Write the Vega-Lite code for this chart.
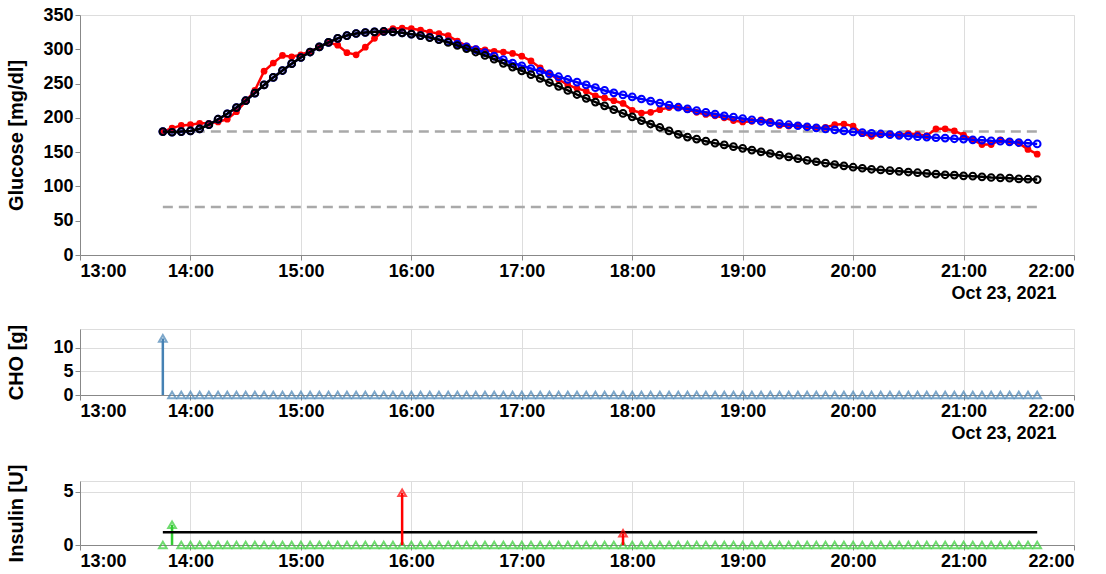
{
  "$schema": "https://vega.github.io/schema/vega-lite/v6.json",
  "data": {"values": [
    {"t": "2021-10-23T13:45", "cgm": 180, "np": 180, "p": 180, "cho": 12, "bolus": 0, "basal": 1.2},
    {"t": "2021-10-23T13:50", "cgm": 185, "np": 179, "p": 179, "cho": 0, "bolus": 1.9, "basal": 1.2},
    {"t": "2021-10-23T13:55", "cgm": 189, "np": 180, "p": 180, "cho": 0, "bolus": 0, "basal": 1.2},
    {"t": "2021-10-23T14:00", "cgm": 190, "np": 181, "p": 181, "cho": 0, "bolus": 0, "basal": 1.2},
    {"t": "2021-10-23T14:05", "cgm": 192, "np": 184, "p": 184, "cho": 0, "bolus": 0, "basal": 1.2},
    {"t": "2021-10-23T14:10", "cgm": 192, "np": 190, "p": 190, "cho": 0, "bolus": 0, "basal": 1.2},
    {"t": "2021-10-23T14:15", "cgm": 194, "np": 198, "p": 198, "cho": 0, "bolus": 0, "basal": 1.2},
    {"t": "2021-10-23T14:20", "cgm": 198, "np": 206, "p": 206, "cho": 0, "bolus": 0, "basal": 1.2},
    {"t": "2021-10-23T14:25", "cgm": 209, "np": 215, "p": 215, "cho": 0, "bolus": 0, "basal": 1.2},
    {"t": "2021-10-23T14:30", "cgm": 224, "np": 225, "p": 225, "cho": 0, "bolus": 0, "basal": 1.2},
    {"t": "2021-10-23T14:35", "cgm": 240, "np": 236, "p": 236, "cho": 0, "bolus": 0, "basal": 1.2},
    {"t": "2021-10-23T14:40", "cgm": 268, "np": 248, "p": 248, "cho": 0, "bolus": 0, "basal": 1.2},
    {"t": "2021-10-23T14:45", "cgm": 280, "np": 259, "p": 259, "cho": 0, "bolus": 0, "basal": 1.2},
    {"t": "2021-10-23T14:50", "cgm": 291, "np": 269, "p": 269, "cho": 0, "bolus": 0, "basal": 1.2},
    {"t": "2021-10-23T14:55", "cgm": 289, "np": 279, "p": 279, "cho": 0, "bolus": 0, "basal": 1.2},
    {"t": "2021-10-23T15:00", "cgm": 292, "np": 288, "p": 288, "cho": 0, "bolus": 0, "basal": 1.2},
    {"t": "2021-10-23T15:05", "cgm": 297, "np": 296, "p": 296, "cho": 0, "bolus": 0, "basal": 1.2},
    {"t": "2021-10-23T15:10", "cgm": 303, "np": 303.5, "p": 303.5, "cho": 0, "bolus": 0, "basal": 1.2},
    {"t": "2021-10-23T15:15", "cgm": 310, "np": 310, "p": 310, "cho": 0, "bolus": 0, "basal": 1.2},
    {"t": "2021-10-23T15:20", "cgm": 306, "np": 316, "p": 316, "cho": 0, "bolus": 0, "basal": 1.2},
    {"t": "2021-10-23T15:25", "cgm": 295, "np": 320, "p": 320, "cho": 0, "bolus": 0, "basal": 1.2},
    {"t": "2021-10-23T15:30", "cgm": 292, "np": 323, "p": 323, "cho": 0, "bolus": 0, "basal": 1.2},
    {"t": "2021-10-23T15:35", "cgm": 303, "np": 324.5, "p": 324.5, "cho": 0, "bolus": 0, "basal": 1.2},
    {"t": "2021-10-23T15:40", "cgm": 316, "np": 325.5, "p": 325.5, "cho": 0, "bolus": 0, "basal": 1.2},
    {"t": "2021-10-23T15:45", "cgm": 327, "np": 326, "p": 326, "cho": 0, "bolus": 0, "basal": 1.2},
    {"t": "2021-10-23T15:50", "cgm": 330, "np": 325.5, "p": 325.5, "cho": 0, "bolus": 0, "basal": 1.2},
    {"t": "2021-10-23T15:55", "cgm": 331, "np": 324, "p": 324, "cho": 0, "bolus": 0, "basal": 1.2, "corr": 4.9},
    {"t": "2021-10-23T16:00", "cgm": 330, "np": 322, "p": 322, "cho": 0, "bolus": 0, "basal": 1.2},
    {"t": "2021-10-23T16:05", "cgm": 328, "np": 320, "p": 320, "cho": 0, "bolus": 0, "basal": 1.2},
    {"t": "2021-10-23T16:10", "cgm": 325, "np": 317.5, "p": 317, "cho": 0, "bolus": 0, "basal": 1.2},
    {"t": "2021-10-23T16:15", "cgm": 323, "np": 314.5, "p": 314, "cho": 0, "bolus": 0, "basal": 1.2},
    {"t": "2021-10-23T16:20", "cgm": 320, "np": 311, "p": 310, "cho": 0, "bolus": 0, "basal": 1.2},
    {"t": "2021-10-23T16:25", "cgm": 312, "np": 307.5, "p": 305.5, "cho": 0, "bolus": 0, "basal": 1.2},
    {"t": "2021-10-23T16:30", "cgm": 305, "np": 303.5, "p": 301, "cho": 0, "bolus": 0, "basal": 1.2},
    {"t": "2021-10-23T16:35", "cgm": 301, "np": 299.5, "p": 296, "cho": 0, "bolus": 0, "basal": 1.2},
    {"t": "2021-10-23T16:40", "cgm": 299, "np": 295, "p": 291, "cho": 0, "bolus": 0, "basal": 1.2},
    {"t": "2021-10-23T16:45", "cgm": 297, "np": 290, "p": 285.5, "cho": 0, "bolus": 0, "basal": 1.2},
    {"t": "2021-10-23T16:50", "cgm": 296, "np": 285, "p": 279.5, "cho": 0, "bolus": 0, "basal": 1.2},
    {"t": "2021-10-23T16:55", "cgm": 294, "np": 280, "p": 274, "cho": 0, "bolus": 0, "basal": 1.2},
    {"t": "2021-10-23T17:00", "cgm": 290, "np": 276, "p": 268.5, "cho": 0, "bolus": 0, "basal": 1.2},
    {"t": "2021-10-23T17:05", "cgm": 283, "np": 272, "p": 263, "cho": 0, "bolus": 0, "basal": 1.2},
    {"t": "2021-10-23T17:10", "cgm": 273, "np": 268, "p": 257.5, "cho": 0, "bolus": 0, "basal": 1.2},
    {"t": "2021-10-23T17:15", "cgm": 264, "np": 264, "p": 251.5, "cho": 0, "bolus": 0, "basal": 1.2},
    {"t": "2021-10-23T17:20", "cgm": 256, "np": 260, "p": 246, "cho": 0, "bolus": 0, "basal": 1.2},
    {"t": "2021-10-23T17:25", "cgm": 248, "np": 256, "p": 240, "cho": 0, "bolus": 0, "basal": 1.2},
    {"t": "2021-10-23T17:30", "cgm": 243, "np": 252, "p": 234, "cho": 0, "bolus": 0, "basal": 1.2},
    {"t": "2021-10-23T17:35", "cgm": 239, "np": 248, "p": 228.5, "cho": 0, "bolus": 0, "basal": 1.2},
    {"t": "2021-10-23T17:40", "cgm": 232, "np": 244, "p": 223, "cho": 0, "bolus": 0, "basal": 1.2},
    {"t": "2021-10-23T17:45", "cgm": 229, "np": 240, "p": 217.5, "cho": 0, "bolus": 0, "basal": 1.2},
    {"t": "2021-10-23T17:50", "cgm": 225, "np": 236.5, "p": 212, "cho": 0, "bolus": 0, "basal": 1.2},
    {"t": "2021-10-23T17:55", "cgm": 221, "np": 233.5, "p": 206.5, "cho": 0, "bolus": 0, "basal": 1.2, "corr": 1.1},
    {"t": "2021-10-23T18:00", "cgm": 211, "np": 230.5, "p": 201.5, "cho": 0, "bolus": 0, "basal": 1.2},
    {"t": "2021-10-23T18:05", "cgm": 207, "np": 227.5, "p": 196, "cho": 0, "bolus": 0, "basal": 1.2},
    {"t": "2021-10-23T18:10", "cgm": 208, "np": 224.5, "p": 191, "cho": 0, "bolus": 0, "basal": 1.2},
    {"t": "2021-10-23T18:15", "cgm": 212, "np": 221.5, "p": 186, "cho": 0, "bolus": 0, "basal": 1.2},
    {"t": "2021-10-23T18:20", "cgm": 215, "np": 218.5, "p": 181, "cho": 0, "bolus": 0, "basal": 1.2},
    {"t": "2021-10-23T18:25", "cgm": 215, "np": 215.5, "p": 176, "cho": 0, "bolus": 0, "basal": 1.2},
    {"t": "2021-10-23T18:30", "cgm": 212, "np": 213, "p": 172, "cho": 0, "bolus": 0, "basal": 1.2},
    {"t": "2021-10-23T18:35", "cgm": 208, "np": 210.5, "p": 169, "cho": 0, "bolus": 0, "basal": 1.2},
    {"t": "2021-10-23T18:40", "cgm": 205, "np": 208, "p": 166, "cho": 0, "bolus": 0, "basal": 1.2},
    {"t": "2021-10-23T18:45", "cgm": 203, "np": 205.5, "p": 163, "cho": 0, "bolus": 0, "basal": 1.2},
    {"t": "2021-10-23T18:50", "cgm": 200, "np": 203, "p": 160.5, "cho": 0, "bolus": 0, "basal": 1.2},
    {"t": "2021-10-23T18:55", "cgm": 196, "np": 201, "p": 158, "cho": 0, "bolus": 0, "basal": 1.2},
    {"t": "2021-10-23T19:00", "cgm": 194, "np": 199, "p": 155.5, "cho": 0, "bolus": 0, "basal": 1.2},
    {"t": "2021-10-23T19:05", "cgm": 195, "np": 197, "p": 153, "cho": 0, "bolus": 0, "basal": 1.2},
    {"t": "2021-10-23T19:10", "cgm": 197, "np": 195, "p": 150.5, "cho": 0, "bolus": 0, "basal": 1.2},
    {"t": "2021-10-23T19:15", "cgm": 195, "np": 193, "p": 148, "cho": 0, "bolus": 0, "basal": 1.2},
    {"t": "2021-10-23T19:20", "cgm": 189, "np": 191.5, "p": 145.5, "cho": 0, "bolus": 0, "basal": 1.2},
    {"t": "2021-10-23T19:25", "cgm": 188, "np": 190, "p": 143, "cho": 0, "bolus": 0, "basal": 1.2},
    {"t": "2021-10-23T19:30", "cgm": 189, "np": 188.5, "p": 140.5, "cho": 0, "bolus": 0, "basal": 1.2},
    {"t": "2021-10-23T19:35", "cgm": 187, "np": 187, "p": 138, "cho": 0, "bolus": 0, "basal": 1.2},
    {"t": "2021-10-23T19:40", "cgm": 185, "np": 185.5, "p": 136, "cho": 0, "bolus": 0, "basal": 1.2},
    {"t": "2021-10-23T19:45", "cgm": 186, "np": 184, "p": 134, "cho": 0, "bolus": 0, "basal": 1.2},
    {"t": "2021-10-23T19:50", "cgm": 190, "np": 182.5, "p": 132, "cho": 0, "bolus": 0, "basal": 1.2},
    {"t": "2021-10-23T19:55", "cgm": 191, "np": 181, "p": 130, "cho": 0, "bolus": 0, "basal": 1.2},
    {"t": "2021-10-23T20:00", "cgm": 188, "np": 179.5, "p": 128, "cho": 0, "bolus": 0, "basal": 1.2},
    {"t": "2021-10-23T20:05", "cgm": 177, "np": 178.5, "p": 126.5, "cho": 0, "bolus": 0, "basal": 1.2},
    {"t": "2021-10-23T20:10", "cgm": 173, "np": 177.5, "p": 125, "cho": 0, "bolus": 0, "basal": 1.2},
    {"t": "2021-10-23T20:15", "cgm": 176, "np": 176.5, "p": 124, "cho": 0, "bolus": 0, "basal": 1.2},
    {"t": "2021-10-23T20:20", "cgm": 176, "np": 175.5, "p": 123, "cho": 0, "bolus": 0, "basal": 1.2},
    {"t": "2021-10-23T20:25", "cgm": 175, "np": 174.5, "p": 122, "cho": 0, "bolus": 0, "basal": 1.2},
    {"t": "2021-10-23T20:30", "cgm": 177, "np": 173.5, "p": 121, "cho": 0, "bolus": 0, "basal": 1.2},
    {"t": "2021-10-23T20:35", "cgm": 176, "np": 172.5, "p": 120, "cho": 0, "bolus": 0, "basal": 1.2},
    {"t": "2021-10-23T20:40", "cgm": 174, "np": 172, "p": 119, "cho": 0, "bolus": 0, "basal": 1.2},
    {"t": "2021-10-23T20:45", "cgm": 184, "np": 171, "p": 118, "cho": 0, "bolus": 0, "basal": 1.2},
    {"t": "2021-10-23T20:50", "cgm": 184, "np": 170.5, "p": 117, "cho": 0, "bolus": 0, "basal": 1.2},
    {"t": "2021-10-23T20:55", "cgm": 181, "np": 169.5, "p": 116.5, "cho": 0, "bolus": 0, "basal": 1.2},
    {"t": "2021-10-23T21:00", "cgm": 175, "np": 169, "p": 115.5, "cho": 0, "bolus": 0, "basal": 1.2},
    {"t": "2021-10-23T21:05", "cgm": 168, "np": 168, "p": 115, "cho": 0, "bolus": 0, "basal": 1.2},
    {"t": "2021-10-23T21:10", "cgm": 161, "np": 167.5, "p": 114, "cho": 0, "bolus": 0, "basal": 1.2},
    {"t": "2021-10-23T21:15", "cgm": 161, "np": 166.5, "p": 113, "cho": 0, "bolus": 0, "basal": 1.2},
    {"t": "2021-10-23T21:20", "cgm": 168, "np": 166, "p": 112.5, "cho": 0, "bolus": 0, "basal": 1.2},
    {"t": "2021-10-23T21:25", "cgm": 165, "np": 165, "p": 112, "cho": 0, "bolus": 0, "basal": 1.2},
    {"t": "2021-10-23T21:30", "cgm": 163, "np": 164, "p": 111, "cho": 0, "bolus": 0, "basal": 1.2},
    {"t": "2021-10-23T21:35", "cgm": 154, "np": 163, "p": 110.5, "cho": 0, "bolus": 0, "basal": 1.2},
    {"t": "2021-10-23T21:40", "cgm": 147, "np": 162, "p": 110, "cho": 0, "bolus": 0, "basal": 1.2}
  ]},
  "vconcat": [
    {
      "width": 994,
      "height": 240,
      "layer": [
        {
          "mark": {"type": "line", "color": "#a9a9a9", "strokeWidth": 2.5, "strokeDash": [10, 6]},
          "encoding": {
            "x": {"field": "t", "type": "temporal"},
            "y": {"datum": 180, "type": "quantitative"}
          }
        },
        {
          "mark": {"type": "line", "color": "#a9a9a9", "strokeWidth": 2.5, "strokeDash": [10, 6]},
          "encoding": {
            "x": {"field": "t", "type": "temporal"},
            "y": {"datum": 70, "type": "quantitative"}
          }
        },
        {
          "mark": {"type": "line", "color": "#ff0000", "strokeWidth": 2.5, "point": {"filled": true, "size": 45, "color": "#ff0000"}},
          "encoding": {
            "x": {"field": "t", "type": "temporal", "scale": {"nice": "hour"},
              "axis": {"format": "%H:%M", "tickCount": 9, "title": "Oct 23, 2021", "titleX": 976, "titleY": 38, "titleAlign": "right", "titleBaseline": "middle"}},
            "y": {"field": "cgm", "type": "quantitative", "scale": {"domain": [0, 350]},
              "axis": {"tickCount": 8, "title": "Glucose [mg/dl]", "titleX": -64, "titleY": 120, "titleAngle": 270, "titleAlign": "center", "titleBaseline": "middle"}}
          }
        },
        {
          "mark": {"type": "line", "color": "#0000ff", "strokeWidth": 2.5, "point": {"filled": false, "size": 45, "color": "#0000ff"}},
          "encoding": {
            "x": {"field": "t", "type": "temporal"},
            "y": {"field": "np", "type": "quantitative"}
          }
        },
        {
          "mark": {"type": "line", "color": "#000000", "strokeWidth": 2.5, "point": {"filled": false, "size": 45, "color": "#000000"}},
          "encoding": {
            "x": {"field": "t", "type": "temporal"},
            "y": {"field": "p", "type": "quantitative"}
          }
        }
      ]
    },
    {
      "width": 994,
      "height": 66,
      "layer": [
        {
          "mark": {"type": "rule", "color": "#4682b4", "strokeWidth": 2.5},
          "encoding": {
            "x": {"field": "t", "type": "temporal", "scale": {"nice": "hour"},
              "axis": {"format": "%H:%M", "tickCount": 9, "title": "Oct 23, 2021", "titleX": 976, "titleY": 38, "titleAlign": "right", "titleBaseline": "middle"}},
            "y": {"field": "cho", "type": "quantitative", "scale": {"domain": [0, 14]},
              "axis": {"tickCount": 3, "title": "CHO [g]", "titleX": -64, "titleY": 33, "titleAngle": 270, "titleAlign": "center", "titleBaseline": "middle"}},
            "y2": {"datum": 0}
          }
        },
        {
          "mark": {"type": "point", "shape": "triangle-up", "filled": false, "size": 60, "strokeWidth": 2, "color": "#4682b4"},
          "encoding": {
            "x": {"field": "t", "type": "temporal"},
            "y": {"field": "cho", "type": "quantitative"}
          }
        }
      ]
    },
    {
      "width": 994,
      "height": 64,
      "layer": [
        {
          "mark": {"type": "rule", "color": "#33cc33", "strokeWidth": 2.5},
          "encoding": {
            "x": {"field": "t", "type": "temporal", "scale": {"nice": "hour"},
              "axis": {"format": "%H:%M", "tickCount": 9, "title": "Oct 23, 2021", "titleX": 976, "titleY": 38, "titleAlign": "right", "titleBaseline": "middle"}},
            "y": {"field": "bolus", "type": "quantitative", "scale": {"domain": [0, 6]},
              "axis": {"tickCount": 1, "title": "Insulin [U]", "titleX": -64, "titleY": 32, "titleAngle": 270, "titleAlign": "center", "titleBaseline": "middle"}},
            "y2": {"datum": 0}
          }
        },
        {
          "mark": {"type": "point", "shape": "triangle-up", "filled": false, "size": 60, "strokeWidth": 2, "color": "#33cc33"},
          "encoding": {
            "x": {"field": "t", "type": "temporal"},
            "y": {"field": "bolus", "type": "quantitative"}
          }
        },
        {
          "mark": {"type": "line", "color": "#000000", "strokeWidth": 2.5},
          "encoding": {
            "x": {"field": "t", "type": "temporal"},
            "y": {"field": "basal", "type": "quantitative"}
          }
        },
        {
          "mark": {"type": "rule", "color": "#ff0000", "strokeWidth": 2.5},
          "encoding": {
            "x": {"field": "t", "type": "temporal"},
            "y": {"field": "corr", "type": "quantitative"},
            "y2": {"datum": 0}
          }
        },
        {
          "mark": {"type": "point", "shape": "triangle-up", "filled": false, "size": 60, "strokeWidth": 2, "color": "#ff0000"},
          "encoding": {
            "x": {"field": "t", "type": "temporal"},
            "y": {"field": "corr", "type": "quantitative"}
          }
        }
      ]
    }
  ],
  "config": {
    "font": "Liberation Sans",
    "axis": {"labelFontSize": 18, "labelFontWeight": "bold", "titleFontSize": 20, "titleFontWeight": "bold"},
    "axisX": {"titleFontSize": 18}
  }
}
